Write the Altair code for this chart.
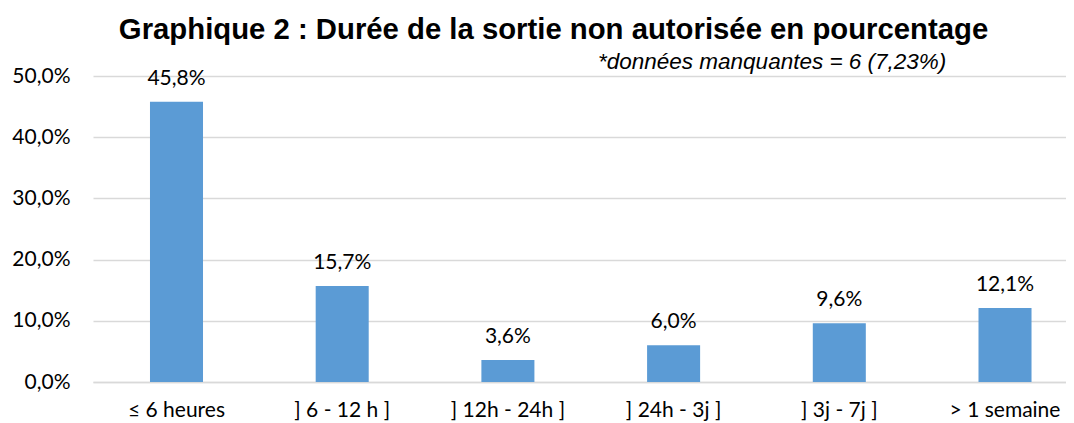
import altair as alt
import pandas as pd

categories = ["≤ 6 heures", "] 6 - 12 h ]", "] 12h - 24h ]", "] 24h - 3j ]", "] 3j - 7j ]", "> 1 semaine"]
values = [45.8, 15.7, 3.6, 6.0, 9.6, 12.1]
labels = ["45,8%", "15,7%", "3,6%", "6,0%", "9,6%", "12,1%"]
y_ticks = [0, 10, 20, 30, 40, 50]
title_text = "Graphique 2 : Durée de la sortie non autorisée en pourcentage"
note_text = "*données manquantes = 6 (7,23%)"

df = pd.DataFrame({"cat": categories, "val": values, "lab": labels})

FONT = "Lato"
xscale = alt.Scale(domain=categories, paddingInner=0.68, paddingOuter=0.276, align=0.623)
yscale = alt.Scale(domain=[0, 50], nice=False)

base = alt.Chart(df)

bars = base.mark_bar(color="#5b9bd5").encode(
    x=alt.X("cat:N", scale=xscale, sort=categories,
            axis=alt.Axis(title=None, labelAngle=0, ticks=False, domain=True,
                          domainColor="#d9d9d9", domainWidth=1.5,
                          labelFont=FONT, labelFontSize=21, labelColor="#000000",
                          labelPadding=17, labelBaseline="top")),
    y=alt.Y("val:Q", scale=yscale,
            axis=alt.Axis(title=None, values=y_ticks, ticks=False, domain=False,
                          labelExpr="replace(format(datum.value, '.1f'), '.', ',') + '%'",
                          labelFont=FONT, labelFontSize=21, labelColor="#000000",
                          labelPadding=23, grid=True, gridColor="#d9d9d9",
                          gridWidth=1.5)),
)

text = base.mark_text(font=FONT, fontSize=21, color="#000000", baseline="alphabetic", dy=-17).encode(
    x=alt.X("cat:N", scale=xscale, sort=categories),
    y=alt.Y("val:Q", scale=yscale),
    text="lab:N",
)

note = alt.Chart(pd.DataFrame({"t": [note_text]})).mark_text(
    font="Liberation Sans", fontSize=22.5, fontStyle="italic", color="#000000",
    align="left", baseline="alphabetic",
).encode(x=alt.value(505), y=alt.value(-7), text="t:N")

chart = alt.layer(bars, text, note).properties(
    width=973,
    height=306,
    title=alt.TitleParams(title_text, font="Liberation Sans", fontSize=29.3, fontWeight="bold",
                          color="#000000", anchor="start", dx=107, offset=6),
    autosize=alt.AutoSizeParams(type="none"),
    padding={"left": 85, "top": 68, "right": 0, "bottom": 41},
).configure_view(stroke=None)

chart.save("out.html", embed_options={"renderer": "svg", "actions": False})
